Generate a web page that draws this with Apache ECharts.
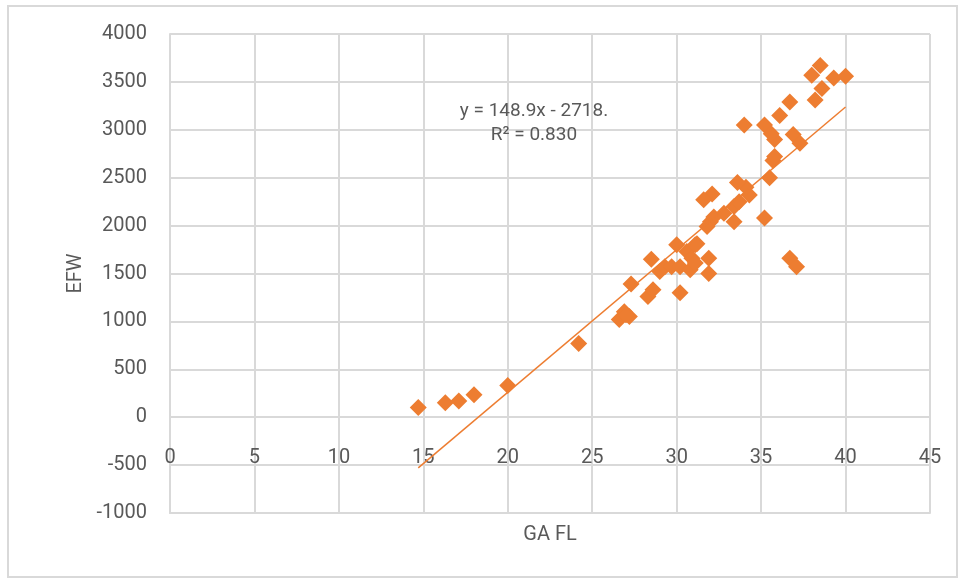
<!DOCTYPE html>
<html>
<head>
<meta charset="utf-8">
<title>EFW vs GA FL</title>
<script src="https://cdn.jsdelivr.net/npm/echarts@6/dist/echarts.min.js"></script>
<style>
  html, body { margin: 0; padding: 0; background: #fff; }
  #chart { width: 961px; height: 580px; }
</style>
</head>
<body>
<div id="chart"></div>
<script>
// GA FL (x) and EFW (y)
var gaFl = [
  14.7, 16.3, 17.1, 18.0, 20.0, 24.2,
  26.6, 26.9, 27.2, 27.0, 27.3,
  28.3, 28.6, 28.5, 29.0, 29.3, 29.7,
  30.0, 30.2, 30.2, 30.6, 30.8, 30.9, 31.1, 31.2, 31.1, 31.9, 31.9,
  31.8, 32.0, 32.2, 32.1, 31.6, 32.8, 33.4, 33.4, 33.7, 34.3, 34.1, 33.6, 35.2,
  34.0, 35.2, 35.5, 35.7, 35.8, 35.6, 35.8, 36.1, 36.7, 36.9, 37.3,
  36.7, 37.1, 38.0, 38.2, 38.6, 38.5, 39.3, 40.0
];
var efw = [
  100, 150, 170, 235, 330, 770,
  1020, 1100, 1050, 1070, 1390,
  1260, 1330, 1650, 1520, 1570, 1570,
  1800, 1570, 1300, 1730, 1540, 1660, 1610, 1810, 1800, 1660, 1500,
  1990, 2040, 2090, 2330, 2270, 2130, 2040, 2200, 2250, 2320, 2400, 2450, 2080,
  3050, 3050, 2500, 2680, 2900, 2960, 2720, 3150, 3290, 2950, 2860,
  1660, 1570, 3570, 3310, 3430, 3670, 3540, 3560
];

// linear trendline as printed on the chart
var slope = 148.9
var intercept = -2718
var eqLabel = 'y = 148.9x - 2718.'
var r2Label = 'R² = 0.830'

var xTicks = { min: 0, max: 45, step: 5 }
var yTicks = { min: -1000, max: 4000, step: 500 }

var points = gaFl.map(function (x, i) { return [x, efw[i]] })
var xLo = Math.min.apply(null, gaFl)
var xHi = Math.max.apply(null, gaFl)
var trend = [[xLo, slope * xLo + intercept], [xHi, slope * xHi + intercept]]

var textColor = '#595959'
var gridColor = '#d9d9d9'
var orange = '#ed7d31'
var font = 'Roboto, "Liberation Sans", sans-serif'

var chart = echarts.init(document.getElementById('chart'))
chart.setOption({
  backgroundColor: '#fff',
  animation: false,
  grid: { left: 170, right: 31, top: 34, bottom: 67, containLabel: false, outerBoundsMode: 'none' },
  xAxis: {
    type: 'value',
    min: xTicks.min,
    max: xTicks.max,
    interval: xTicks.step,
    name: 'GA FL',
    nameLocation: 'middle',
    nameGap: 12,
    nameMoveOverlap: false,
    nameTextStyle: { color: textColor, fontSize: 20, fontFamily: font, verticalAlign: 'top' },
    axisLine: { show: true, onZero: false, lineStyle: { color: gridColor, width: 2 } },
    axisTick: { show: false },
    // labels sit just under the zero line, as in the original
    axisLabel: { color: textColor, fontSize: 20, fontFamily: font, margin: -65, verticalAlign: 'top' },
    splitLine: { show: true, lineStyle: { color: gridColor, width: 2 } }
  },
  yAxis: {
    type: 'value',
    min: yTicks.min,
    max: yTicks.max,
    interval: yTicks.step,
    name: 'EFW',
    nameLocation: 'middle',
    nameGap: 47,
    nameTextStyle: { color: textColor, fontSize: 20, fontFamily: font },
    axisLine: { show: true, lineStyle: { color: gridColor, width: 2 } },
    axisTick: { show: false },
    axisLabel: {
      color: textColor,
      fontSize: 20,
      fontFamily: font,
      margin: 23,
      formatter: function (v) { return String(v) }
    },
    splitLine: { show: true, lineStyle: { color: gridColor, width: 2 } }
  },
  series: [
    {
      name: 'EFW',
      type: 'scatter',
      symbol: 'diamond',
      symbolSize: 17,
      itemStyle: { color: orange, opacity: 1 },
      data: points,
      z: 3
    },
    {
      name: 'trend',
      type: 'line',
      symbol: 'none',
      lineStyle: { color: orange, width: 1.5 },
      data: trend,
      z: 4
    }
  ],
  graphic: [
    {
      type: 'rect',
      shape: { x: 8, y: 6, width: 949, height: 571 },
      style: { fill: 'none', stroke: gridColor, lineWidth: 2 },
      silent: true
    },
    {
      type: 'text',
      x: 534,
      y: 111,
      z: 10,
      style: { text: eqLabel, fill: textColor, fontSize: 19, fontFamily: font, textAlign: 'center', textVerticalAlign: 'middle' }
    },
    {
      type: 'text',
      x: 534,
      y: 135,
      z: 10,
      style: { text: r2Label, fill: textColor, fontSize: 19, fontFamily: font, textAlign: 'center', textVerticalAlign: 'middle' }
    }
  ]
})
</script>
</body>
</html>
